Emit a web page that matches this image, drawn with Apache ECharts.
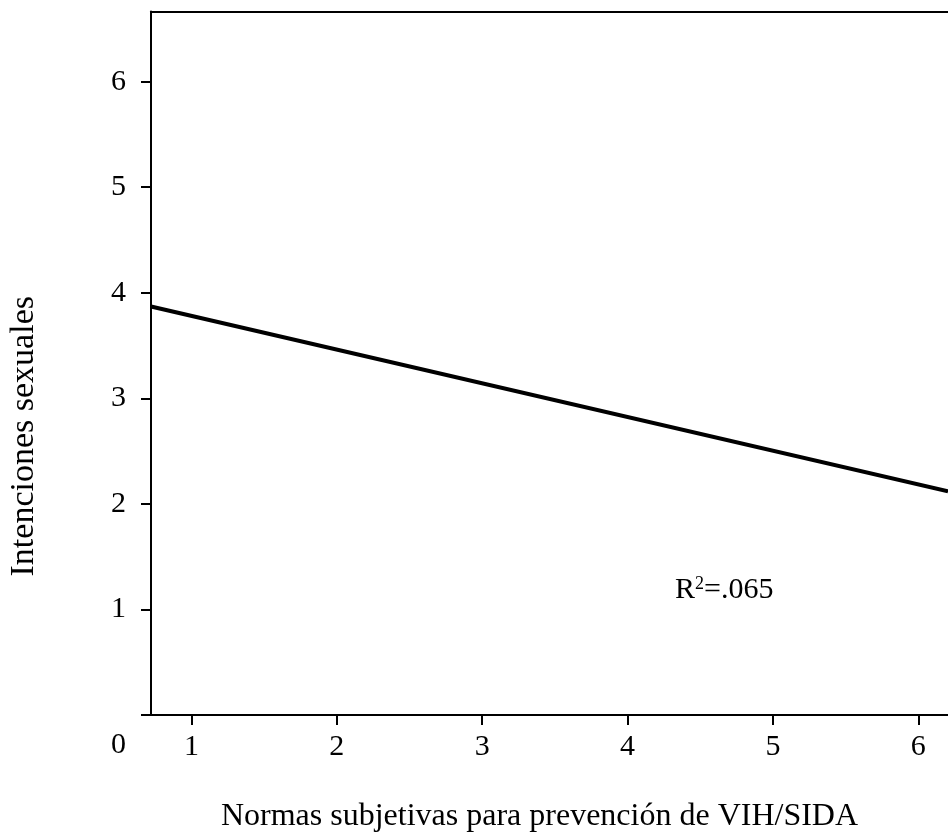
<!DOCTYPE html>
<html>
<head>
<meta charset="utf-8">
<script src="https://cdn.jsdelivr.net/npm/echarts@6/dist/echarts.min.js"></script>
<style>html,body{margin:0;padding:0;background:#fff}#c{width:948px;height:839px}</style>
</head>
<body>
<div id="c"></div>
<script>
// Data
var xTicks = [1, 2, 3, 4, 5, 6];
var yTicks = [0, 1, 2, 3, 4, 5, 6];
var yLabels = [1, 2, 3, 4, 5, 6];
var xRange = [0.722, 6.204];
var yRange = [0, 6.665];
var lineX = [0.722, 6.204];
var lineY = [3.87, 2.12];
var r2Text = '.065';
var xTitle = 'Normas subjetivas para prevención de VIH/SIDA';
var yTitle = 'Intenciones sexuales';

var FONT = '"Liberation Serif", "Times New Roman", serif';
var lineData = lineX.map(function (x, i) { return [x, lineY[i]]; });

var chart = echarts.init(document.getElementById('c'), null, {renderer: 'canvas'});
chart.setOption({
  animation: false,
  backgroundColor: '#fff',
  grid: {left: 151, top: 11.5, right: 0, bottom: 124, containLabel: false, outerBoundsMode: 'none'},
  xAxis: [{
    type: 'value', min: xRange[0], max: xRange[1], position: 'bottom',
    name: xTitle, nameLocation: 'middle', nameGap: 86,
    nameTextStyle: {fontFamily: FONT, fontSize: 32, color: '#000', padding: [0, 20, 0, 0]},
    axisLine: {show: true, onZero: false, lineStyle: {color: '#000', width: 2}},
    axisTick: {show: true, length: 10, inside: false, customValues: xTicks, lineStyle: {color: '#000', width: 2}},
    axisLabel: {show: true, customValues: xTicks, margin: 17, fontFamily: FONT, fontSize: 30, color: '#000'},
    splitLine: {show: false}
  }, {
    type: 'value', min: xRange[0], max: xRange[1], position: 'top',
    axisLine: {show: true, onZero: false, lineStyle: {color: '#000', width: 2}},
    axisTick: {show: false}, axisLabel: {show: false}, splitLine: {show: false}
  }],
  yAxis: [{
    type: 'value', min: yRange[0], max: yRange[1], position: 'left',
    name: yTitle, nameLocation: 'middle', nameGap: 110, nameRotate: 90,
    nameTextStyle: {fontFamily: FONT, fontSize: 34, color: '#000', padding: [0, 146, 0, 0]},
    axisLine: {show: true, onZero: false, lineStyle: {color: '#000', width: 2}},
    axisTick: {show: true, length: 10, inside: false, customValues: yTicks, lineStyle: {color: '#000', width: 2}},
    axisLabel: {show: true, customValues: yLabels, margin: 25, fontFamily: FONT, fontSize: 30, color: '#000'},
    splitLine: {show: false}
  }],
  series: [{
    type: 'line', xAxisIndex: 0, yAxisIndex: 0,
    data: lineData, showSymbol: false, symbol: 'none',
    lineStyle: {color: '#000', width: 4}, silent: true
  }],
  graphic: [{
    type: 'text', left: 111, top: 730,
    style: {text: '0', font: '30px ' + FONT, fill: '#000'}
  }, {
    type: 'text', left: 675, top: 575,
    style: {
      rich: {
        b: {fontFamily: FONT, fontSize: 30, fill: '#000', color: '#000'},
        s: {fontFamily: FONT, fontSize: 18, fill: '#000', color: '#000', verticalAlign: 'top', padding: [0, 0, 12, 0]}
      },
      text: '{b|R}{s|2}{b|=' + r2Text + '}'
    }
  }]
});
</script>
</body>
</html>
